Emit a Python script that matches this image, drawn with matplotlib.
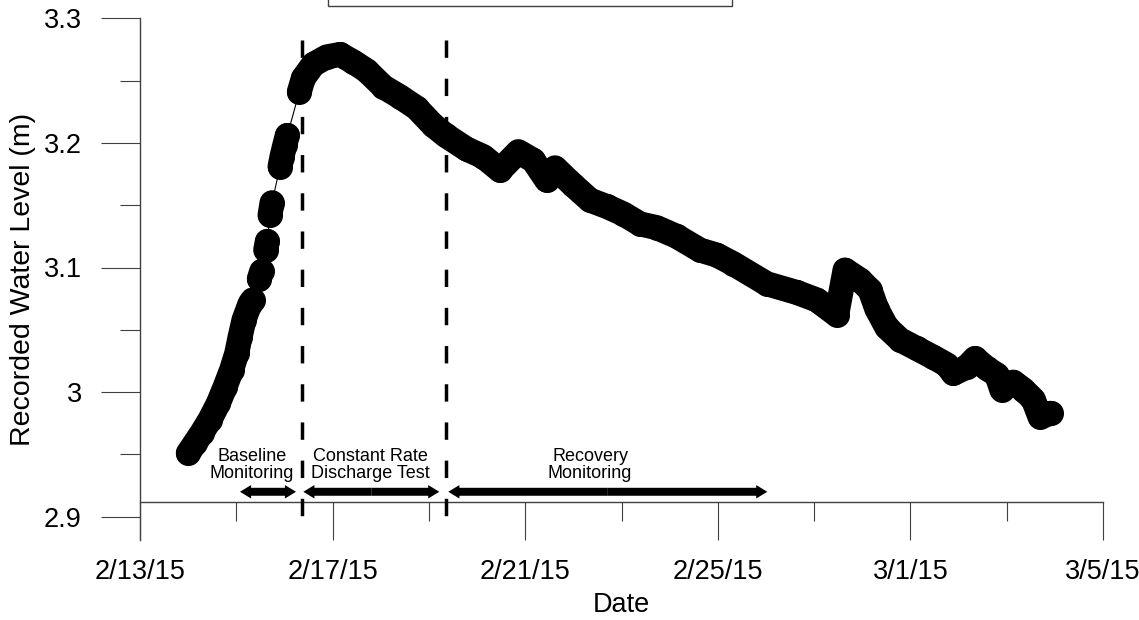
import numpy as np
import matplotlib
import matplotlib.pyplot as plt
import matplotlib.dates as mdates
from matplotlib.patches import Rectangle, FancyArrow
from matplotlib.ticker import FixedLocator, MultipleLocator, FuncFormatter
import pandas as pd

matplotlib.use("Agg")

plt.rcParams["font.family"] = ["Liberation Sans", "DejaVu Sans"]

START = pd.Timestamp("2015-02-13")

# days elapsed since 2/13/15 00:00 and the logged water level (m)
elapsed_days = [
    1.003, 1.142, 1.281, 1.454, 1.627, 1.765, 1.904, 2.008, 2.077, 2.160,
    2.285, 2.340, 2.478, 2.527, 2.610, 2.644, 2.700, 2.742, 2.908, 2.949,
    3.005, 3.059, 3.309, 3.392, 3.599, 3.877, 4.154, 4.430, 4.708, 5.053,
    5.400, 5.747, 6.091, 6.349, 6.785, 7.130, 7.477, 7.857, 8.168, 8.447,
    8.619, 8.999, 9.346, 9.693, 10.037, 10.384, 10.731, 11.146, 11.630, 11.977,
    12.322, 13.015, 13.638, 14.054, 14.469, 14.642, 14.953, 15.161, 15.300, 15.508,
    15.784, 16.131, 16.476, 16.754, 16.891, 17.169, 17.342, 17.585, 17.792, 17.896,
    18.137, 18.345, 18.553, 18.692, 18.914,
]
water_level = [
    2.951, 2.959, 2.967, 2.978, 2.991, 3.004, 3.018, 3.031, 3.044, 3.058,
    3.071, 3.074, 3.091, 3.097, 3.114, 3.121, 3.142, 3.152, 3.181, 3.189,
    3.198, 3.206, 3.241, 3.252, 3.263, 3.269, 3.271, 3.265, 3.258, 3.245,
    3.237, 3.228, 3.214, 3.206, 3.195, 3.189, 3.178, 3.193, 3.186, 3.170,
    3.180, 3.166, 3.154, 3.149, 3.143, 3.135, 3.132, 3.125, 3.114, 3.110,
    3.103, 3.087, 3.080, 3.074, 3.062, 3.098, 3.090, 3.082, 3.067, 3.052,
    3.042, 3.035, 3.028, 3.022, 3.015, 3.020, 3.027, 3.019, 3.014, 3.002,
    3.008, 3.002, 2.994, 2.980, 2.983,
]
# readings after which the logger record has a gap
gap_after = [11, 13, 15, 17, 21]

# test phases (elapsed days)
phase_bounds = [3.358, 6.355]
phase_labels = ["Baseline\nMonitoring", "Constant Rate\nDischarge Test", "Recovery\nMonitoring"]
phase_label_x = [2.320, 4.793, 9.346]
phase_arrows = [(2.077, 3.240), (3.392, 6.216), (6.403, 13.028)]

tick_dates = ["2015-02-13", "2015-02-17", "2015-02-21", "2015-02-25", "2015-03-01", "2015-03-05"]
y_ticks = [2.9, 3.0, 3.1, 3.2, 3.3]

t0 = mdates.date2num(START)
x = t0 + np.array(elapsed_days)
y = np.array(water_level)
ins = [i + 1 for i in gap_after]
x_band = np.insert(x, ins, np.nan)
y_band = np.insert(y, ins, np.nan)

fig = plt.figure(figsize=(11.39, 6.2), dpi=100)
ax = fig.add_axes([140 / 1139, 80 / 620, 963 / 1139, 521.7 / 620])

ax.plot(x, y, color="black", lw=0.8, zorder=3)
ax.plot(x_band, y_band, color="black", lw=18, solid_capstyle="round",
        solid_joinstyle="round", zorder=3)
ax.plot(x, y, "o", color="black", ms=17, zorder=3)

for b in phase_bounds:
    ax.plot([t0 + b, t0 + b], [3.2826, 2.9], color="black", lw=2.5,
            dashes=(5.0, 6.0), zorder=4)

for lbl, lx in zip(phase_labels, phase_label_x):
    ax.text(t0 + lx, 2.9415, lbl, ha="center", va="center", fontsize=13,
            linespacing=1.05)

# double-headed arrows: two heads pointing out from the middle
arrow_y = 2.920
shaft_w = 0.0064
head_w = 0.0108
head_len = 0.23
for a, b in phase_arrows:
    mid = (a + b) / 2
    for end in (a, b):
        ax.add_patch(FancyArrow(t0 + mid, arrow_y, end - mid, 0, width=shaft_w,
                                head_width=head_w, head_length=head_len,
                                length_includes_head=True, color="black", lw=0))

ax.set_xlim(t0, mdates.date2num(pd.Timestamp(tick_dates[-1])))
ax.set_ylim(2.9 - 23.3 / 1246, 3.3)

ax.spines["top"].set_visible(False)
ax.spines["right"].set_visible(False)
ax.spines["bottom"].set_position(("data", 2.9118))
for s in ("left", "bottom"):
    ax.spines[s].set_color("#404040")
    ax.spines[s].set_linewidth(1)

ax.xaxis.set_major_locator(FixedLocator(mdates.date2num(pd.to_datetime(tick_dates))))
ax.xaxis.set_minor_locator(MultipleLocator(2, offset=t0))
ax.xaxis.set_major_formatter(FuncFormatter(
    lambda v, p: "{d.month}/{d.day}/{d:%y}".format(d=mdates.num2date(v))))
ax.yaxis.set_major_locator(FixedLocator(y_ticks))
ax.yaxis.set_minor_locator(MultipleLocator(0.05))
ax.yaxis.set_major_formatter(FuncFormatter(lambda v, p: f"{v:g}"))

ax.tick_params(axis="x", which="major", direction="out", length=27.4, width=0.8,
               color="#404040", labelsize=19.5, pad=14)
ax.tick_params(axis="x", which="minor", direction="out", length=13.7, width=0.8,
               color="#404040")
ax.tick_params(axis="y", which="major", direction="out", length=28, width=0.8,
               color="#404040", labelsize=19.5, pad=14)
ax.tick_params(axis="y", which="minor", direction="out", length=14.4, width=0.8,
               color="#404040")

ax.set_xlabel("Date", fontsize=19.5)
ax.set_ylabel("Recorded Water Level (m)", fontsize=20.5)
ax.xaxis.set_label_coords(0.5, -0.1)
ax.yaxis.set_label_coords(-0.108, 0.5)

# legend frame cut off at the top edge
fig.patches.append(Rectangle((328 / 1139, 614 / 620), 404 / 1139, 0.05,
                             transform=fig.transFigure, facecolor="white",
                             edgecolor="#404040", lw=1))

fig.savefig("out.png", dpi=100)
plt.close(fig)
